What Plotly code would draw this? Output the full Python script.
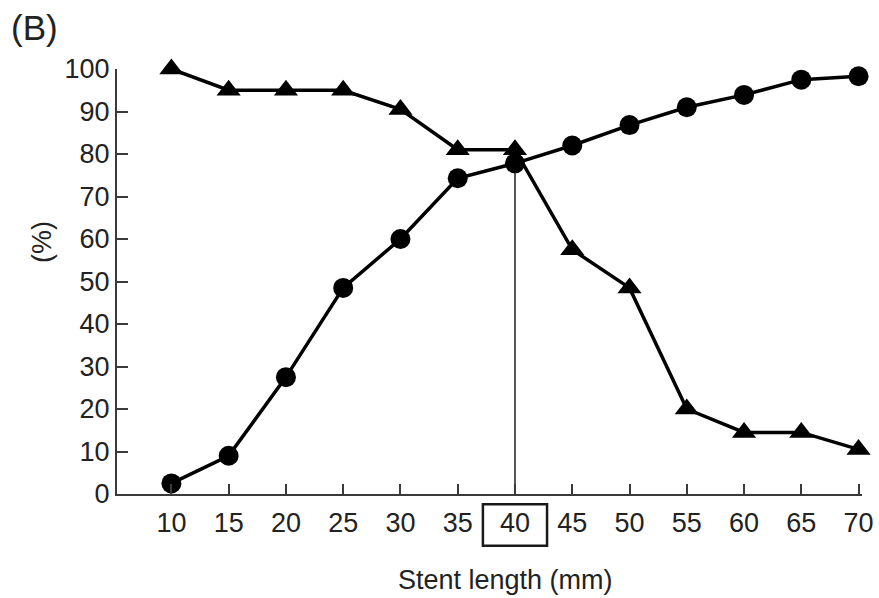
import plotly.graph_objects as go

stent_length = [10, 15, 20, 25, 30, 35, 40, 45, 50, 55, 60, 65, 70]
triangle_series = [100, 95, 95, 95, 90.5, 81, 81, 57.5, 48.5, 20, 14.5, 14.5, 10.5]
circle_series = [2.5, 9, 27.5, 48.5, 60, 74.3, 77.8, 82, 86.8, 91, 93.9, 97.5, 98.3]
y_ticks = [0, 10, 20, 30, 40, 50, 60, 70, 80, 90, 100]
highlight_length = 40

FONT = "Liberation Sans, Arial, Helvetica, sans-serif"
AX = "#3a3a3a"

fig = go.Figure()

hi_idx = stent_length.index(highlight_length)
fig.add_trace(go.Scatter(
    x=[highlight_length, highlight_length], y=[0, circle_series[hi_idx]],
    mode="lines", line=dict(color="#555555", width=2), showlegend=False,
    hoverinfo="skip"))

fig.add_trace(go.Scatter(
    x=stent_length, y=circle_series, mode="lines+markers",
    line=dict(color="black", width=3.5),
    marker=dict(symbol="circle", size=20, color="black"),
    showlegend=False, cliponaxis=False))

fig.add_trace(go.Scatter(
    x=stent_length, y=triangle_series, mode="lines+markers",
    line=dict(color="black", width=3.5),
    marker=dict(symbol="triangle-up", size=21, color="black"),
    showlegend=False, cliponaxis=False))

fig.update_layout(
    width=879, height=598,
    margin=dict(l=117, r=17, t=69, b=104),
    paper_bgcolor="white", plot_bgcolor="white",
    font=dict(family=FONT, size=27, color="#222222"),
    xaxis=dict(
        range=[5.25, 70.3], tickvals=stent_length,
        ticktext=[str(v) for v in stent_length],
        showgrid=False, zeroline=False, showline=True,
        linecolor=AX, linewidth=2, ticks="inside", ticklen=10,
        tickcolor=AX, tickwidth=2, automargin=False, ticklabelstandoff=4,
    ),
    yaxis=dict(
        range=[0, 100], tickvals=y_ticks,
        showgrid=False, zeroline=False, showline=True,
        linecolor=AX, linewidth=2, ticks="inside", ticklen=11,
        tickcolor=AX, tickwidth=2, automargin=False,
    ),
    shapes=[dict(
        type="rect", xref="x", yref="paper",
        x0=highlight_length - 2.8, x1=highlight_length + 2.8,
        y0=-0.122, y1=-0.024,
        line=dict(color="#1a1a1a", width=2.5))],
    annotations=[
        dict(text="(B)", xref="paper", yref="paper", x=-0.145, y=1.097,
             xanchor="left", yanchor="middle", showarrow=False,
             font=dict(size=35)),
        dict(text="(%)", xref="paper", yref="paper", x=-0.1007, y=0.593,
             xanchor="center", yanchor="middle", textangle=-90,
             showarrow=False, font=dict(size=27)),
        dict(text="Stent length (mm)", xref="paper", yref="paper",
             x=0.521, y=-0.202, xanchor="center", yanchor="middle",
             showarrow=False, font=dict(size=27)),
    ],
)

fig.write_html("out.html", config={"displayModeBar": False},
               post_script="document.body.style.margin='0';")
